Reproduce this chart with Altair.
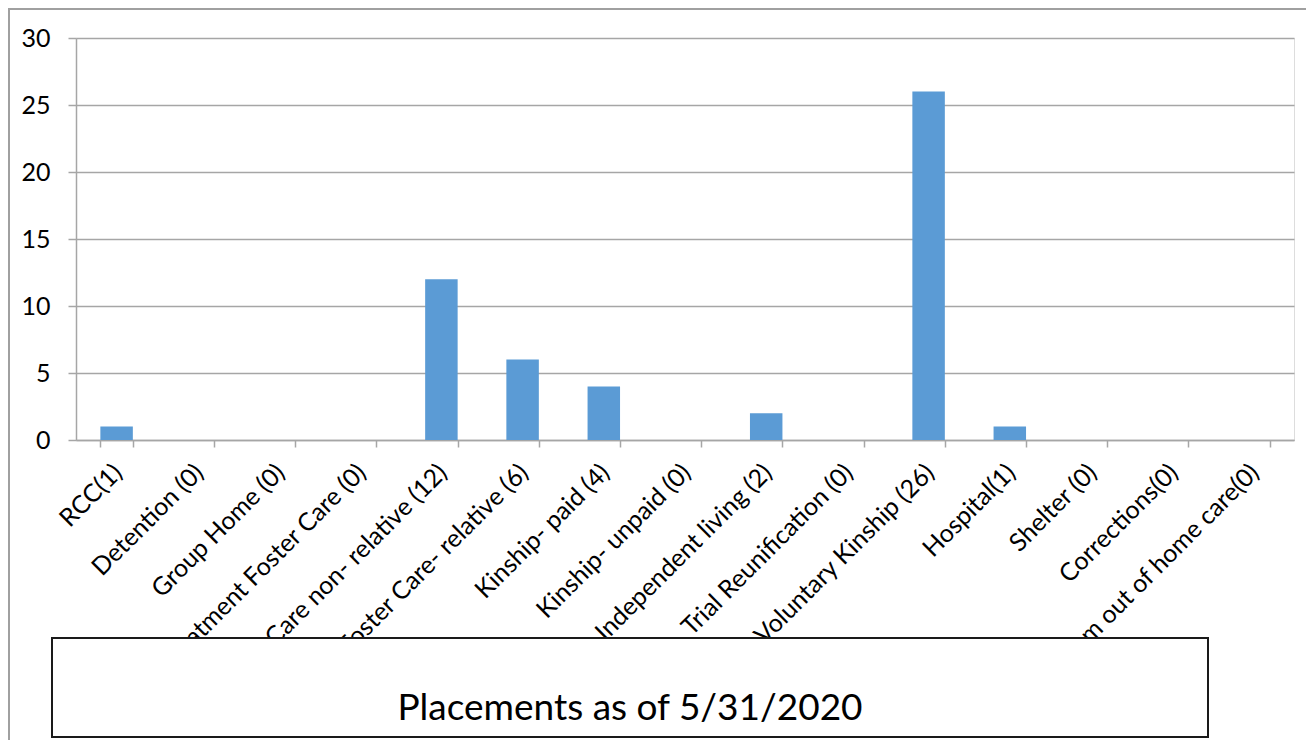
import altair as alt
import pandas as pd

categories = [
    "RCC(1)",
    "Detention (0)",
    "Group Home (0)",
    "Treatment Foster Care (0)",
    "Foster Care non- relative (12)",
    "Foster Care- relative (6)",
    "Kinship- paid (4)",
    "Kinship- unpaid (0)",
    "Independent living (2)",
    "Trial Reunification (0)",
    "Voluntary Kinship (26)",
    "Hospital(1)",
    "Shelter (0)",
    "Corrections(0)",
    "Program out of home care(0)",
]
values = [1, 0, 0, 0, 12, 6, 4, 0, 2, 0, 26, 1, 0, 0, 0]
y_ticks = [0, 5, 10, 15, 20, 25, 30]
title_text = ["Placements as of 5/31/2020"]

FONT = "Lato"
GRID = "#a6a6a6"

df = pd.DataFrame({"category": categories, "value": values})
tdf = pd.DataFrame({"t": title_text})

W, H = 1218, 402

bars = alt.Chart(df).mark_bar(color="#5b9bd5").encode(
    x=alt.X(
        "category:N",
        sort=None,
        scale=alt.Scale(paddingInner=0.6, paddingOuter=0.3),
        axis=alt.Axis(
            title=None,
            labelAngle=-45,
            labelAlign="right",
            labelBaseline="middle",
            labelFont=FONT,
            labelFontSize=25,
            labelColor="#000000",
            labelLimit=2000,
            labelPadding=21,
            labelOffset=1,
            labelOverlap=False,
            tickBand="extent",
            tickSize=7,
            tickColor=GRID,
            domainColor=GRID,
            domainWidth=1.5,
            tickWidth=1.5,
            zindex=0,
        ),
    ),
    y=alt.Y(
        "value:Q",
        scale=alt.Scale(domain=[0, 30], nice=False),
        axis=alt.Axis(
            title=None,
            values=y_ticks,
            labelFont=FONT,
            labelFontSize=25,
            labelColor="#000000",
            labelPadding=18,
            tickSize=8,
            tickColor=GRID,
            tickWidth=1.5,
            domainColor=GRID,
            domainWidth=1.5,
            gridColor=GRID,
            gridWidth=1.5,
            grid=True,
            zindex=0,
        ),
    ),
)

frame = alt.Chart(tdf).mark_rect(
    fill="transparent", stroke="#a0a0a0", strokeWidth=2
).encode(
    x=alt.value(-67),
    x2=alt.value(1400),
    y=alt.value(-29),
    y2=alt.value(900),
)

box = alt.Chart(tdf).mark_rect(
    fill="white", stroke="#1a1a1a", strokeWidth=2
).encode(
    x=alt.value(-24),
    x2=alt.value(1132),
    y=alt.value(600),
    y2=alt.value(699),
)

title = alt.Chart(tdf).mark_text(
    font=FONT, fontSize=37, color="#000000", align="center", baseline="alphabetic"
).encode(
    text="t:N",
    x=alt.value(554),
    y=alt.value(682),
)

chart = alt.layer(bars, frame, box, title).properties(
    width=W,
    height=H,
    autosize=alt.AutoSizeParams(type="none"),
    padding={"left": 68, "top": 30, "right": 12, "bottom": 300},
).configure_view(strokeWidth=0).configure(background="white")

chart.save("out.html", embed_options={"renderer": "svg", "actions": False})
